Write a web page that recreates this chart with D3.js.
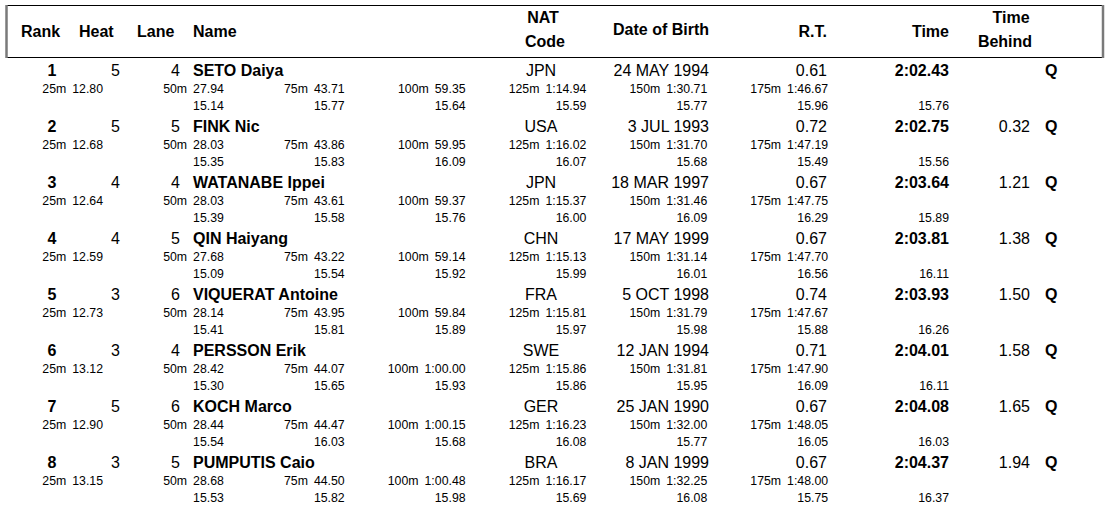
<!DOCTYPE html>
<html><head><meta charset="utf-8">
<script src="https://cdn.jsdelivr.net/npm/d3@7"></script>
<style>
body{margin:0;background:#fff}
svg{display:block;font-family:"Liberation Sans",Arial,Helvetica,sans-serif}
</style>
</head><body>
<svg id="c" width="1115" height="514"></svg>
<script>
// ---------- data ----------
const ranks = [1, 2, 3, 4, 5, 6, 7, 8];
const heats = [5, 5, 4, 4, 3, 3, 5, 3];
const lanes = [4, 5, 4, 5, 6, 4, 6, 5];
const names = ["SETO Daiya", "FINK Nic", "WATANABE Ippei", "QIN Haiyang", "VIQUERAT Antoine", "PERSSON Erik", "KOCH Marco", "PUMPUTIS Caio"];
const nats = ["JPN", "USA", "JPN", "CHN", "FRA", "SWE", "GER", "BRA"];
const births = ["24 MAY 1994", "3 JUL 1993", "18 MAR 1997", "17 MAY 1999", "5 OCT 1998", "12 JAN 1994", "25 JAN 1990", "8 JAN 1999"];
const reactions = ["0.61", "0.72", "0.67", "0.67", "0.74", "0.71", "0.67", "0.67"];
const finalTimes = ["2:02.43", "2:02.75", "2:03.64", "2:03.81", "2:03.93", "2:04.01", "2:04.08", "2:04.37"];
const timesBehind = ["", "0.32", "1.21", "1.38", "1.50", "1.58", "1.65", "1.94"];
const qualified = ["Q", "Q", "Q", "Q", "Q", "Q", "Q", "Q"];
const splitDistances = ["25m", "50m", "75m", "100m", "125m", "150m", "175m"];
const splitTimes = [
  ["12.80", "27.94", "43.71", "59.35", "1:14.94", "1:30.71", "1:46.67"],
  ["12.68", "28.03", "43.86", "59.95", "1:16.02", "1:31.70", "1:47.19"],
  ["12.64", "28.03", "43.61", "59.37", "1:15.37", "1:31.46", "1:47.75"],
  ["12.59", "27.68", "43.22", "59.14", "1:15.13", "1:31.14", "1:47.70"],
  ["12.73", "28.14", "43.95", "59.84", "1:15.81", "1:31.79", "1:47.67"],
  ["13.12", "28.42", "44.07", "1:00.00", "1:15.86", "1:31.81", "1:47.90"],
  ["12.90", "28.44", "44.47", "1:00.15", "1:16.23", "1:32.00", "1:48.05"],
  ["13.15", "28.68", "44.50", "1:00.48", "1:16.17", "1:32.25", "1:48.00"]
];
const lapTimes = [
  ["15.14", "15.77", "15.64", "15.59", "15.77", "15.96", "15.76"],
  ["15.35", "15.83", "16.09", "16.07", "15.68", "15.49", "15.56"],
  ["15.39", "15.58", "15.76", "16.00", "16.09", "16.29", "15.89"],
  ["15.09", "15.54", "15.92", "15.99", "16.01", "16.56", "16.11"],
  ["15.41", "15.81", "15.89", "15.97", "15.98", "15.88", "16.26"],
  ["15.30", "15.65", "15.93", "15.86", "15.95", "16.09", "16.11"],
  ["15.54", "16.03", "15.68", "16.08", "15.77", "16.05", "16.03"],
  ["15.53", "15.82", "15.98", "15.69", "16.08", "15.75", "16.37"]
];

// ---------- layout ----------
const svg = d3.select("#c");
svg.append("rect").attr("width", 1115).attr("height", 514).attr("fill", "#fff");

const rowY = d3.scaleBand().domain(d3.range(ranks.length)).range([58, 506]).paddingInner(0);
const colRight = d3.scaleLinear().domain([0, 7]).range([103, 949]);

const MAIN = 16, SMALL = 12.3;

// header box
const hb = svg.append("g");
hb.append("line").attr("x1", 6).attr("x2", 1104).attr("y1", 5.5).attr("y2", 5.5).attr("stroke", "#000").attr("stroke-width", 1);
hb.append("line").attr("x1", 6).attr("x2", 1104).attr("y1", 57.5).attr("y2", 57.5).attr("stroke", "#000").attr("stroke-width", 1);
hb.append("line").attr("x1", 6.5).attr("x2", 6.5).attr("y1", 5).attr("y2", 58).attr("stroke", "#7a7a7a").attr("stroke-width", 2.5);
hb.append("line").attr("x1", 1103).attr("x2", 1103).attr("y1", 5).attr("y2", 58).attr("stroke", "#7a7a7a").attr("stroke-width", 2.5);

const headers = [
  {t: "Rank", x: 21, y: 37, a: "start"},
  {t: "Heat", x: 79, y: 37, a: "start"},
  {t: "Lane", x: 137, y: 37, a: "start"},
  {t: "Name", x: 193, y: 37, a: "start"},
  {t: "NAT", x: 543, y: 23, a: "middle"},
  {t: "Code", x: 545, y: 47, a: "middle"},
  {t: "Date of Birth", x: 709, y: 35, a: "end"},
  {t: "R.T.", x: 827, y: 37, a: "end"},
  {t: "Time", x: 949, y: 37, a: "end"},
  {t: "Time", x: 1011, y: 23, a: "middle"},
  {t: "Behind", x: 1005, y: 47, a: "middle"}
];
svg.append("g").selectAll("text").data(headers).join("text")
  .attr("x", d => d.x).attr("y", d => d.y).attr("text-anchor", d => d.a)
  .attr("font-size", MAIN).attr("font-weight", "bold").text(d => d.t);

// rows
const rows = svg.append("g").selectAll("g").data(ranks).join("g")
  .attr("transform", (d, i) => `translate(0,${rowY(i)})`);

const base = 17.5; // main line baseline within row
function txt(sel, x, y, anchor, size, weight, f) {
  return sel.append("text").attr("x", x).attr("y", y).attr("text-anchor", anchor)
    .attr("font-size", size).attr("font-weight", weight).text(f);
}
rows.each(function(d, i) {
  const g = d3.select(this);
  txt(g, 52, base, "middle", MAIN, "bold", ranks[i]);
  txt(g, 120, base, "end", MAIN, "normal", heats[i]);
  txt(g, 180, base, "end", MAIN, "normal", lanes[i]);
  txt(g, 193, base, "start", MAIN, "bold", names[i]);
  txt(g, 541, base, "middle", MAIN, "normal", nats[i]);
  txt(g, 709, base, "end", MAIN, "normal", births[i]);
  txt(g, 827, base, "end", MAIN, "normal", reactions[i]);
  txt(g, 949, base, "end", MAIN, "bold", finalTimes[i]);
  txt(g, 1030, base, "end", MAIN, "normal", timesBehind[i]);
  txt(g, 1045, base, "start", MAIN, "bold", qualified[i]);
  splitDistances.forEach((s, j) => {
    const t = txt(g, colRight(j), base + 17, "end", SMALL, "normal", null);
    t.append("tspan").text(s);
    t.append("tspan").attr("dx", 6).text(splitTimes[i][j]);
    txt(g, colRight(j + 1), base + 34, "end", SMALL, "normal", lapTimes[i][j]);
  });
});
</script>
</body></html>
